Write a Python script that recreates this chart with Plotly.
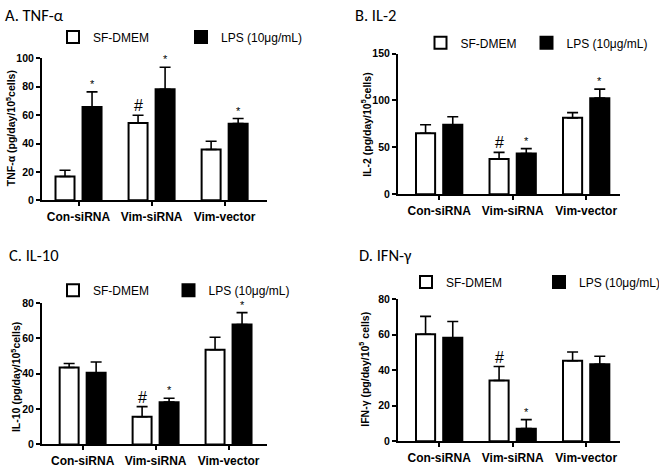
import plotly.graph_objects as go

# ---------------- data ----------------
categories = ["Con-siRNA", "Vim-siRNA", "Vim-vector"]
series_names = ["SF-DMEM", "LPS (10μg/mL)"]

tnf_sf = [16.8, 54.5, 35.8]
tnf_sf_err = [4.4, 5.4, 5.8]
tnf_lps = [65.7, 78.2, 54.0]
tnf_lps_err = [10.7, 15.6, 3.6]
tnf_sf_marks = ["", "#", ""]
tnf_lps_marks = ["*", "*", "*"]

il2_sf = [65.0, 37.6, 81.4]
il2_sf_err = [9.0, 7.0, 5.6]
il2_lps = [74.0, 43.4, 102.4]
il2_lps_err = [8.6, 5.2, 9.6]
il2_sf_marks = ["", "#", ""]
il2_lps_marks = ["", "*", "*"]

il10_sf = [43.5, 15.7, 53.5]
il10_sf_err = [2.2, 5.7, 7.1]
il10_lps = [40.5, 23.9, 67.8]
il10_lps_err = [6.1, 2.2, 6.7]
il10_sf_marks = ["", "#", ""]
il10_lps_marks = ["", "*", "*"]

ifn_sf = [60.2, 34.2, 45.3]
ifn_sf_err = [10.0, 7.8, 4.9]
ifn_lps = [58.2, 7.1, 43.3]
ifn_lps_err = [9.1, 5.1, 4.5]
ifn_sf_marks = ["", "#", ""]
ifn_lps_marks = ["", "*", ""]

panel_titles = ["A. TNF-α", "B. IL-2", "C. IL-10", "D. IFN-γ"]
y_titles = [
    "TNF-α (pg/day/10<sup>5</sup>cells)",
    "IL-2 (pg/day/10<sup>5</sup>cells)",
    "IL-10 (pg/day/10<sup>5</sup>cells)",
    "IFN-γ (pg/day/10<sup>5</sup> cells)",
]
y_max = [100, 150, 80, 80]
y_dtick = [20, 50, 20, 20]

# ---------------- layout constants ----------------
W, H = 659, 468
BAR_W = 0.26
OFF_SF = -0.315
OFF_LPS = 0.055
FONT_AX = "Liberation Sans, Arial, sans-serif"
FONT_TITLE = "Carlito, Lato, Open Sans, sans-serif"

# panel geometry in pixels: (x_left, x_right, y_bottom, y_top, xrange)
panels = [
    (42, 267, 200.3, 54, [-0.50, 2.58]),
    (398, 620, 194, 49, [-0.56, 2.46]),
    (42, 267, 452, 306, [-0.557, 2.527]),
    (398, 620, 448.7, 302, [-0.56, 2.46]),
]
title_pos = [(3, 9), (353, 9.5), (7, 257), (357, 257)]
ytitle_pos = [(10, 126), (366, 122.5), (15.5, 383), (364, 375)]
legend_pos = [(69, 32), (436.5, 38), (69, 293), (422, 284.5)]
legend_entry = [83, 61, 70.5, 88]
legend_entry2 = [80, 80, 80, 75]

data_sets = [
    (tnf_sf, tnf_sf_err, tnf_lps, tnf_lps_err, tnf_sf_marks, tnf_lps_marks),
    (il2_sf, il2_sf_err, il2_lps, il2_lps_err, il2_sf_marks, il2_lps_marks),
    (il10_sf, il10_sf_err, il10_lps, il10_lps_err, il10_sf_marks, il10_lps_marks),
    (ifn_sf, ifn_sf_err, ifn_lps, ifn_lps_err, ifn_sf_marks, ifn_lps_marks),
]

fig = go.Figure()
xs = list(range(len(categories)))
annotations = []
layout_upd = {}

for i, (sf, sfe, lps, lpse, sfm, lpsm) in enumerate(data_sets):
    n = "" if i == 0 else str(i + 1)
    xa, ya = "x" + n, "y" + n
    leg = "legend" + n
    err_common = dict(type="data", symmetric=False, color="black",
                      thickness=1.6, width=5.5)
    fig.add_trace(go.Bar(
        x=xs, y=sf, name=series_names[0], xaxis=xa, yaxis=ya,
        width=BAR_W, offset=OFF_SF, legend=leg, legendwidth=legend_entry[i],
        marker=dict(color="white", line=dict(color="black", width=2)),
        error_y=dict(array=sfe, arrayminus=[0] * len(sf), **err_common),
        hoverinfo="skip",
    ))
    fig.add_trace(go.Bar(
        x=xs, y=lps, name=series_names[1], xaxis=xa, yaxis=ya,
        width=BAR_W, offset=OFF_LPS, legend=leg, legendwidth=legend_entry2[i],
        marker=dict(color="black", line=dict(color="black", width=2)),
        error_y=dict(array=lpse, arrayminus=[0] * len(lps), **err_common),
        hoverinfo="skip",
    ))

    # significance marks
    for j in xs:
        for vals, errs, marks, off in ((sf, sfe, sfm, OFF_SF), (lps, lpse, lpsm, OFF_LPS)):
            m = marks[j]
            if not m:
                continue
            big = m == "#"
            annotations.append(dict(
                x=j + off + BAR_W / 2, y=vals[j] + errs[j], xref=xa, yref=ya,
                text=m, showarrow=False, yanchor="bottom",
                yshift=-1 if big else 0,
                font=dict(family=FONT_AX, size=16 if big else 11, color="black"),
            ))

    xl, xr, yb, yt, xr_range = panels[i]
    ax_common = dict(showline=True, linewidth=2, linecolor="black",
                     ticks="outside", ticklen=4, tickwidth=1.5, tickcolor="black",
                     showgrid=False, zeroline=False, fixedrange=True)
    layout_upd["xaxis" + n] = dict(
        domain=[xl / W, xr / W], anchor=ya, range=xr_range,
        tickvals=xs, ticktext=categories,
        tickfont=dict(family=FONT_AX, size=12, color="black", weight="bold"),
        **ax_common)
    layout_upd["yaxis" + n] = dict(
        domain=[1 - yb / H, 1 - yt / H], anchor=xa, range=[0, y_max[i]],
        dtick=y_dtick[i], tick0=0,
        tickfont=dict(family=FONT_AX, size=10.5, color="black", weight="bold"),
        **ax_common)

    # y-axis title
    yx, yy = ytitle_pos[i]
    annotations.append(dict(
        x=yx / W, y=1 - yy / H, xref="paper", yref="paper",
        xanchor="center", yanchor="middle", textangle=-90, showarrow=False,
        text=y_titles[i],
        font=dict(family=FONT_AX, size=10.5, color="black", weight="bold"),
    ))

    lx, ly = legend_pos[i]
    layout_upd[leg] = dict(
        x=(lx - 16) / W, y=1 - ly / H, xanchor="left", yanchor="middle",
        xref="paper", yref="paper", orientation="h",
        bgcolor="rgba(0,0,0,0)", borderwidth=0,
        font=dict(family=FONT_AX, size=12, color="black"),
        tracegroupgap=0,
    )

    tx, ty = title_pos[i]
    annotations.append(dict(
        x=tx / W, y=1 - ty / H, xref="paper", yref="paper",
        xanchor="left", yanchor="middle", showarrow=False,
        text=panel_titles[i],
        font=dict(family=FONT_TITLE, size=16.5, color="black"),
    ))

fig.update_layout(
    width=W, height=H,
    margin=dict(l=0, r=0, t=0, b=0),
    paper_bgcolor="white", plot_bgcolor="white",
    barmode="overlay",
    annotations=annotations,
    **layout_upd,
)

fig.write_html(
    "out.html",
    config={"displayModeBar": False},
    post_script="document.body.style.margin='0';document.body.style.padding='0';",
)
